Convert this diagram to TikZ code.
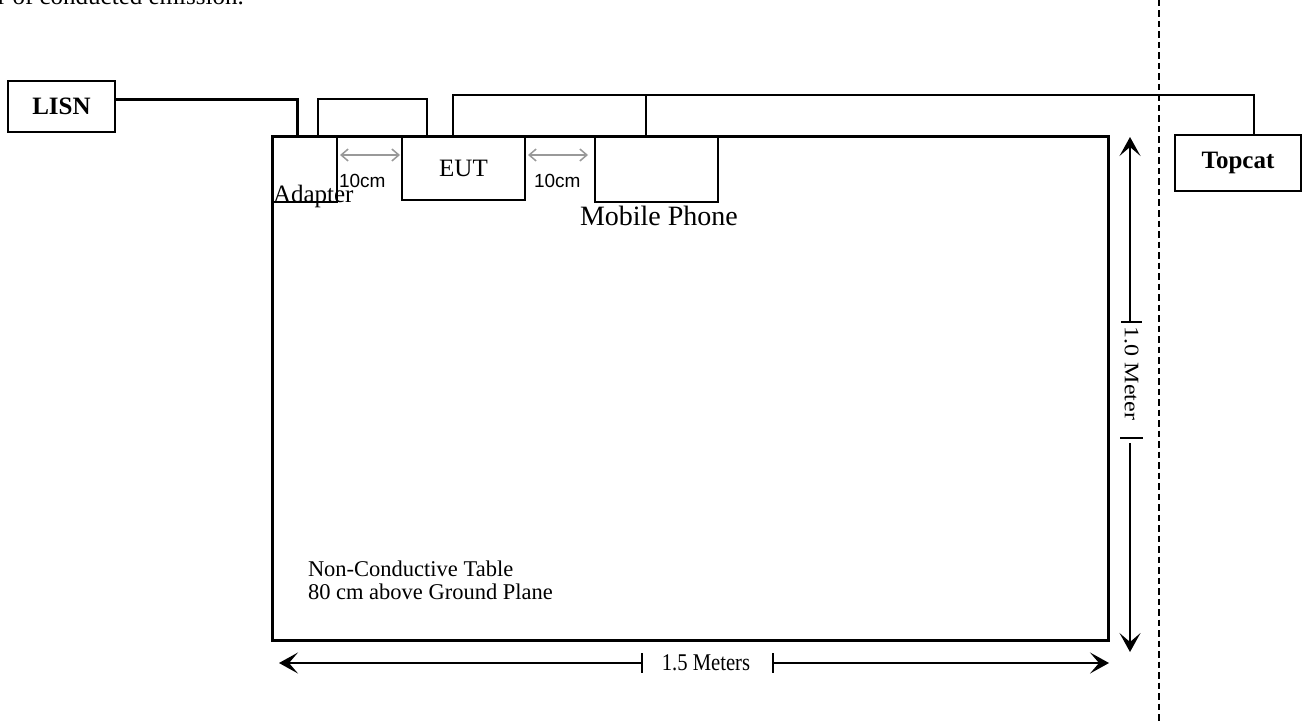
\documentclass[tikz,border=0pt]{standalone}
\usepackage{fontspec}
\setmainfont{Liberation Serif}
\newfontfamily\arialf{Liberation Sans}
\usetikzlibrary{arrows.meta}
\begin{document}
\begin{tikzpicture}[x=1pt,y=-1pt,
  box/.style={draw, line width=1.5pt, inner sep=0pt, outer sep=0pt},
  bigbox/.style={draw, line width=2pt, inner sep=0pt, outer sep=0pt, font=\fontsize{25}{30}\selectfont\bfseries},
  wire/.style={line width=1.5pt},
  thickwire/.style={line width=3pt},
  gaparrow/.style={line width=1.5pt, draw=black!40, {Straight Barb[length=7pt,width=12pt]}-{Straight Barb[length=7pt,width=12pt]}},
  dimline/.style={line width=1.5pt},
  dimtip/.style={-{Stealth[length=19pt,width=21pt,inset=9pt]}},
  txt/.style={inner sep=0pt, outer sep=0pt},
  tabtxt/.style={inner sep=0pt, outer sep=0pt, font=\fontsize{22.5}{27}\selectfont},
  dimtxt/.style={inner sep=0pt, font=\fontsize{24}{28}\selectfont, xscale=0.86, transform shape}
]
\useasboundingbox (0,0) rectangle (1308,722);

% top text (clipped)
\node[txt, anchor=base west, font=\fontsize{25}{30}\selectfont] (toptext) at (-2,5) {r of conducted emission.};

% table
\node[draw, line width=3pt, inner sep=0pt, minimum width=836pt, minimum height=503pt] (table) at (690,388.5) {};

% boxes
\node[bigbox, minimum width=107pt, minimum height=51pt] (lisn) at (61.5,106.5) {LISN};
\node[bigbox, minimum width=126pt, minimum height=56pt] (topcat) at (1238,163) {Topcat};
\node[box, minimum width=64pt, minimum height=65pt] (adapter) at (305,169.5) {};
\node[box, minimum width=123pt, minimum height=63pt, font=\fontsize{25}{30}\selectfont] (eut) at (463.5,168.5) {EUT};
\node[box, minimum width=123pt, minimum height=65pt] (phone) at (656.5,169.5) {};

% labels
\node[txt, anchor=base west, font=\fontsize{25}{30}\selectfont] (adlab) at (273,203) {Adapter};
\node[txt, anchor=base west, font=\fontsize{28}{32}\selectfont] (phlab) at (580,225) {Mobile Phone};
\node[txt, anchor=base west, font=\arialf\fontsize{19}{22}\selectfont] (gap1) at (339,187) {10cm};
\node[txt, anchor=base west, font=\arialf\fontsize{19}{22}\selectfont] (gap2) at (534,187) {10cm};
\node[tabtxt, anchor=base west] (tab1) at (308,576) {Non-Conductive Table};
\node[tabtxt, anchor=base west] (tab2) at (308,599) {80 cm above Ground Plane};

% wires
\draw[thickwire] ([yshift=6.5pt]lisn.east) -| ([xshift=24pt]adapter.north west);
\draw[wire] ([xshift=45pt]adapter.north west) -- ++(0,-38) -| ([xshift=25pt]eut.north west);
\coordinate (bus) at (0,95);
\draw[wire] ([xshift=51pt]eut.north west) |- ([xshift=16pt]topcat.north |- bus) -- ([xshift=16pt]topcat.north);
\draw[wire] ([xshift=-10.5pt]phone.north |- bus) -- ([xshift=-10.5pt]phone.north);

% gap arrows
\draw[gaparrow] ([xshift=3pt]adapter.east |- 0,155) -- ([xshift=-2pt]eut.west |- 0,155);
\draw[gaparrow] ([xshift=3pt]eut.east |- 0,155) -- ([xshift=-7pt]phone.west |- 0,155);

% dashed separator
\coordinate (dtop) at (1159,0);
\coordinate (dbot) at (1159,722);
\draw[line width=1.5pt, dash pattern=on 6.5pt off 4pt] (dtop) -- (dbot);

% horizontal dimension
\node[dimtxt] (hlab) at (706,663) {1.5 Meters};
\coordinate (hL) at (279,663);
\coordinate (hR) at (1109,663);
\coordinate (ht1) at (642,663);
\coordinate (ht2) at (773,663);
\draw[dimline, dimtip] (ht1) -- (hL);
\draw[dimline, dimtip] (ht2) -- (hR);
\draw[dimline] ([yshift=10pt]ht1) -- ([yshift=-10pt]ht1);
\draw[dimline] ([yshift=10pt]ht2) -- ([yshift=-10pt]ht2);

% vertical dimension
\node[dimtxt, rotate=-90] (vlab) at (1131.5,373.5) {1.0 Meter};
\coordinate (vT) at (1130,137);
\coordinate (vB) at (1130,652);
\coordinate (vt1) at (1130,322);
\coordinate (vt2) at (1131,438);
\coordinate (vt3) at (1130,443);
\draw[dimline, dimtip] (vt1) -- (vT);
\draw[dimline, dimtip] (vt3) -- (vB);
\draw[dimline] ([xshift=-9pt]vt1) -- ([xshift=12pt]vt1);
\draw[dimline] ([xshift=-11pt]vt2) -- ([xshift=12pt]vt2);
\end{tikzpicture}
\end{document}
